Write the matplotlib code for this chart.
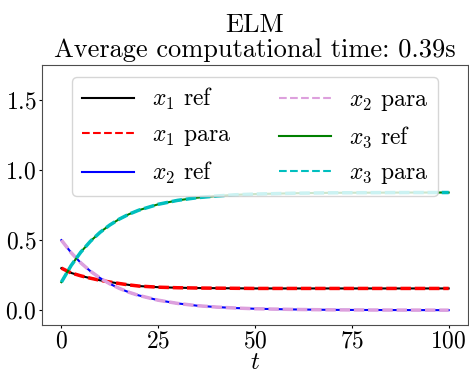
import matplotlib
matplotlib.use('Agg')
import matplotlib.pyplot as plt

# data
t = [0, 2.5, 5, 7.5, 10, 12.5, 15, 17.5, 20, 25, 30, 35, 40, 45, 50,
     60, 70, 80, 90, 100]
x1 = [0.300, 0.266, 0.245, 0.228, 0.213, 0.201, 0.190, 0.180, 0.172, 0.164,
      0.160, 0.158, 0.157, 0.156, 0.155, 0.155, 0.155, 0.155, 0.155, 0.155]
x2 = [0.500, 0.411, 0.338, 0.278, 0.229, 0.188, 0.155, 0.127, 0.105, 0.071,
      0.048, 0.032, 0.022, 0.015, 0.010, 0.005, 0.002, 0.001, 0.0005, 0.0]
x3 = [0.200, 0.318, 0.414, 0.492, 0.556, 0.608, 0.651, 0.686, 0.714, 0.756,
      0.784, 0.803, 0.815, 0.824, 0.829, 0.835, 0.838, 0.839, 0.840, 0.840]

series = [('$x_1$', x1, 'k', 'r'),
          ('$x_2$', x2, 'b', 'plum'),
          ('$x_3$', x3, 'g', 'c')]

plt.rcParams['font.family'] = 'serif'
plt.rcParams['font.serif'] = ['cmr10']
plt.rcParams['mathtext.fontset'] = 'cm'
plt.rcParams['axes.formatter.use_mathtext'] = True
plt.rcParams['axes.unicode_minus'] = False

fig = plt.figure(figsize=(4.69, 3.72), dpi=100)
ax = fig.add_axes([0.0896, 0.126, 0.9084, 0.699])

for name, vals, c_ref, c_para in series:
    ax.plot(t, vals, '-', color=c_ref, lw=1.5, label=name + ' ref')
    ax.plot(t, vals, '--', color=c_para, lw=2.5, dashes=(3, 1.1),
            label=name + ' para')

ax.set_ylim(-0.107, 1.75)
ax.set_yticks([0.0, 0.5, 1.0, 1.5])
ax.set_xticks([0, 25, 50, 75, 100])
ax.tick_params(labelsize=17, length=2.5, pad=1.5)
for s in ax.spines.values():
    s.set_color('0.3')
ax.set_xlabel('$t$', fontsize=18, labelpad=-1)
ax.set_title('ELM\nAverage computational time: 0.39s', fontsize=19,
             linespacing=1.05, pad=6)
leg = ax.legend(loc='upper center', ncol=2, fontsize=17, handlelength=2.2)
for ln in leg.get_lines():
    ln.set_linewidth(1.5)
    if ln.get_linestyle() != '-':
        ln.set_dashes((3.7, 1.6))

fig.savefig('out.png', dpi=100)
